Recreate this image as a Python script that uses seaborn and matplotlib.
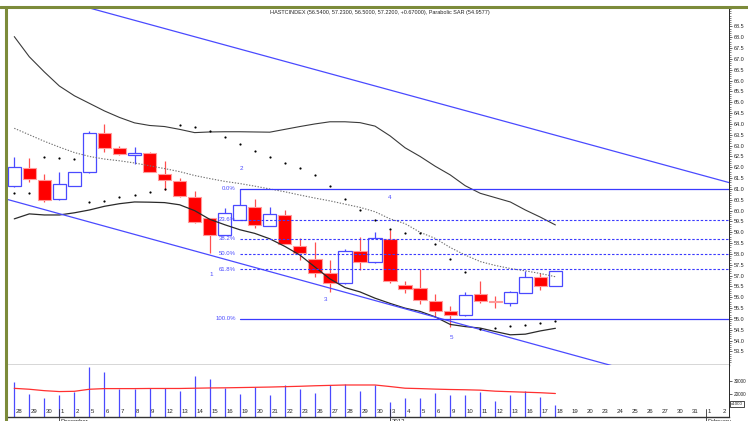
import numpy as np
import pandas as pd
import seaborn as sns
import matplotlib.pyplot as plt
from matplotlib.lines import Line2D
from matplotlib.transforms import blended_transform_factory

# trading days shown on the axis (Jan 2 holiday dropped)
dates = pd.bdate_range("2011-11-28", "2012-02-02").drop(pd.Timestamp("2012-01-02"))

# OHLC for Nov 28 .. Jan 18
opens = [61.15, 61.95, 61.42, 60.52, 61.14, 61.77, 63.57, 62.88, 62.57, 62.68,
         61.69, 61.38, 60.65, 59.65, 58.88, 59.57, 60.18, 59.29, 59.80, 58.37,
         57.76, 57.14, 56.65, 58.14, 57.62, 58.69, 56.57, 56.45, 55.83, 55.38,
         55.18, 56.15, 55.85, 55.75, 56.21, 56.95, 56.54]
highs = [62.46, 62.42, 61.68, 61.80, 61.80, 63.68, 63.98, 62.98, 62.92, 62.70,
         62.30, 61.49, 60.92, 59.67, 60.11, 61.00, 60.54, 60.15, 60.05, 58.72,
         58.57, 57.72, 58.23, 58.80, 59.03, 59.10, 56.75, 57.29, 56.15, 55.60,
         56.26, 56.75, 56.06, 56.28, 57.22, 57.14, 57.23]
lows = [61.10, 61.34, 60.41, 60.50, 61.12, 61.75, 62.72, 62.57, 62.14, 61.78,
        60.95, 60.62, 59.42, 58.06, 58.86, 59.55, 59.19, 59.27, 58.44, 57.72,
        56.95, 56.26, 56.63, 57.26, 57.60, 56.65, 56.19, 55.69, 55.11, 54.62,
        55.16, 55.75, 55.49, 55.60, 56.19, 56.34, 56.50]
closes = [62.00, 61.45, 60.49, 61.23, 61.77, 63.57, 62.88, 62.60, 62.68, 61.80,
          61.42, 60.68, 59.49, 58.88, 59.88, 60.26, 59.34, 59.83, 58.46, 58.03,
          57.14, 56.68, 58.15, 57.62, 58.75, 56.77, 56.39, 55.88, 55.37, 55.18,
          56.11, 55.83, 55.77, 56.26, 56.95, 56.54, 57.22]

# bollinger bands
bb_upper = [68.03, 67.10, 66.40, 65.75, 65.30, 64.95, 64.60, 64.30, 64.05, 63.93,
            63.88, 63.75, 63.60, 63.63, 63.64, 63.64, 63.63, 63.62, 63.75, 63.88,
            64.00, 64.10, 64.10, 64.06, 63.90, 63.45, 62.90, 62.50, 62.05, 61.65,
            61.15, 60.80, 60.60, 60.40, 60.03, 59.70, 59.34]
bb_mid = [63.80, 63.50, 63.20, 62.93, 62.68, 62.50, 62.38, 62.30, 62.20, 62.07,
          61.94, 61.80, 61.62, 61.48, 61.35, 61.25, 61.13, 61.00, 60.87, 60.72,
          60.58, 60.45, 60.30, 60.15, 59.95, 59.62, 59.40, 59.00, 58.72, 58.30,
          57.95, 57.65, 57.47, 57.33, 57.22, 57.10, 56.95]
bb_lower = [59.62, 59.85, 59.80, 59.80, 59.90, 60.03, 60.20, 60.32, 60.40, 60.39,
            60.37, 60.27, 60.00, 59.60, 59.35, 59.12, 58.95, 58.70, 58.35, 57.95,
            57.40, 56.85, 56.45, 56.25, 55.96, 55.72, 55.50, 55.35, 55.10, 54.75,
            54.65, 54.58, 54.42, 54.27, 54.30, 54.45, 54.57]

# parabolic SAR
sar = [60.83, 60.83, 62.46, 62.42, 62.38, 60.41, 60.46, 60.62, 60.72, 60.88,
       61.00, 63.95, 63.86, 63.68, 63.40, 63.07, 62.75, 62.46, 62.20, 61.97,
       61.65, 61.14, 60.54, 60.03, 59.57, 59.15, 58.98, 58.95, 58.45, 57.77,
       57.16, 54.56, 54.60, 54.68, 54.71, 54.80, 54.91]

volume = [29200, 20000, 16500, 19400, 21600, 40600, 36700, 23400, 23400, 24200,
          24200, 22100, 33500, 31100, 24200, 20000, 25200, 18700, 26600, 24000,
          20800, 26600, 27400, 22100, 26800, 13700, 16800, 16800, 20500, 18900,
          19400, 21000, 14700, 18700, 22400, 17300, 11500]
volume_ma = [24200, 23500, 22400, 21700, 21900, 23500, 24000, 24000, 24000, 24100,
             24100, 24100, 24300, 24500, 24600, 24800, 25000, 25200, 25500, 25800,
             26200, 26500, 26800, 26800, 26800, 25600, 24300, 24000, 23600, 23300,
             23100, 22800, 22000, 21600, 21200, 20800, 20200]

# trend channel (slot, price) end points
channel_upper = [(5.0, 69.35), (48.0, 61.21)]
channel_lower = [(-1.0, 60.62), (40.0, 52.80)]

# fibonacci retracement
fib_start = 15
fib_high, fib_low = 61.0, 55.0
fib_pcts = [0.0, 23.6, 38.2, 50.0, 61.8, 100.0]

# elliott wave labels (slot, price, text)
wave_slots = [13.1, 15.1, 20.7, 25.0, 29.1]
wave_prices = [57.06, 61.95, 55.88, 60.62, 54.16]
wave_texts = ["1", "2", "3", "4", "5"]

title = ("HASTCINDEX (56.5400, 57.2300, 56.5000, 57.2200, +0.67000), "
         "Parabolic SAR (54.9577)")

sns.set_style("white")
plt.rcParams["font.family"] = ["Liberation Sans", "DejaVu Sans"]

BLUE = "#4a4aff"
RED = "#ff0000"
OLIVE = "#7c8b3a"

W, H = 748, 421
fig = plt.figure(figsize=(W / 100, H / 100), dpi=100)
ax = fig.add_axes([6 / W, 1 - 364.5 / H, 723 / W, (364.5 - 8) / H])
axv = fig.add_axes([6 / W, 1 - 416.7 / H, 723 / W, (416.7 - 364.5) / H], sharex=ax)

n = len(closes)
x = np.arange(n)
df = pd.DataFrame({"x": x, "open": opens, "high": highs, "low": lows, "close": closes,
                   "upper": bb_upper, "mid": bb_mid, "lower": bb_lower, "sar": sar,
                   "vol": volume, "vol_ma": volume_ma})
up = df["close"] >= df["open"]

# --- candles ---
ax.vlines(df.x[up], df.low[up], df.high[up], color=BLUE, lw=0.9, zorder=2)
ax.vlines(df.x[~up], df.low[~up], df.high[~up], color="#ff5050", lw=0.9, zorder=2)
body_lo = df[["open", "close"]].min(axis=1)
body_h = (df.close - df.open).abs()
ax.bar(df.x[up], body_h[up], bottom=body_lo[up], width=0.88, color="white",
       edgecolor=BLUE, linewidth=0.9, zorder=3)
ax.bar(df.x[~up], body_h[~up], bottom=body_lo[~up], width=0.88, color=RED,
       edgecolor="#ff9a9a", linewidth=0.8, zorder=3)

# --- bands and SAR ---
sns.lineplot(data=df, x="x", y="upper", ax=ax, color="#3a3a3a", lw=0.8, zorder=4)
sns.lineplot(data=df, x="x", y="lower", ax=ax, color="#2a2a2a", lw=0.9, zorder=4)
sns.lineplot(data=df, x="x", y="mid", ax=ax, color="#707070", lw=0.8,
             linestyle=(0, (1.2, 1.4)), zorder=4)
sns.scatterplot(data=df, x="x", y="sar", ax=ax, s=2.5, color="black",
                linewidth=0, zorder=5)

# --- trend channel ---
for seg in (channel_upper, channel_lower):
    xs, ys = zip(*seg)
    ax.plot(xs, ys, color=BLUE, lw=0.9, zorder=4)

# --- fibonacci ---
for p in fib_pcts:
    lvl = fib_high - p / 100 * (fib_high - fib_low)
    solid = p in (0.0, 100.0)
    ax.plot([fib_start, 49], [lvl, lvl], color="#3a3aff", lw=0.9 if solid else 0.8,
            linestyle="-" if solid else (0, (2.2, 1.6)), zorder=4)
    ax.text(fib_start - 0.25, lvl, f"{p:.1f}%", color="#4a4aff", fontsize=4.3,
            ha="right", va="center", zorder=6)

for sx, sy, t in zip(wave_slots, wave_prices, wave_texts):
    ax.text(sx, sy, t, color="#4a4aff", fontsize=4.5, ha="center", va="center")

ax.set_xlim(-0.55, 47.55)
ax.set_ylim(52.9, 69.35)
ax.set_xlabel("")
ax.set_ylabel("")
ax.yaxis.tick_right()
ax.set_yticks(np.arange(53.5, 68.51, 0.5))
ax.set_yticks(np.arange(53.0, 69.31, 0.1), minor=True)
ax.yaxis.set_major_formatter(plt.FormatStrFormatter("%.1f"))
ax.tick_params(axis="y", which="major", right=True, length=2.2, width=0.5,
               labelsize=4.0, pad=1.5, direction="out")
ax.tick_params(axis="y", which="minor", right=True, length=1.2, width=0.4)
ax.tick_params(axis="x", bottom=False, labelbottom=False)
for s in ("left", "top"):
    ax.spines[s].set_visible(False)
ax.spines["right"].set_linewidth(0.7)
ax.spines["bottom"].set_linewidth(1.0)
ax.spines["bottom"].set_color("#333333")

# --- volume panel ---
axv.vlines(df.x, 0, df.vol, color=BLUE, lw=0.9)
sns.lineplot(data=df, x="x", y="vol_ma", ax=axv, color="#ff3030", lw=0.9)
axv.set_ylim(2200, 42700)
axv.set_xlabel("")
axv.set_ylabel("")
axv.yaxis.tick_right()
axv.set_yticks([20000, 30000])
axv.tick_params(axis="y", right=True, length=2.2, width=0.5, labelsize=3.4, pad=1)
axv.set_xticks(np.arange(len(dates)))
axv.tick_params(axis="x", direction="in", length=3, width=0.5, labelbottom=False)
for s in ("left", "top"):
    axv.spines[s].set_visible(False)
axv.spines["right"].set_linewidth(0.7)
axv.spines["bottom"].set_linewidth(1.0)
axv.spines["bottom"].set_color("#333333")

trans = blended_transform_factory(axv.transData, axv.transAxes)
for i, d in enumerate(dates):
    axv.text(i + 0.1, 0.05, str(d.day), transform=trans, fontsize=4.3,
             ha="left", va="bottom")
    if i > 0 and d.month != dates[i - 1].month:
        name = str(d.year) if d.year != dates[i - 1].year else d.strftime("%B")
        axv.plot([i, i], [-0.2, 0.15], transform=trans, color="#333333",
                 lw=0.6, clip_on=False)
        axv.text(i + 0.1, -0.04, name, transform=trans, fontsize=4.3,
                 ha="left", va="top", clip_on=False)

fig.text(731 / W, 1 - 404 / H, "x1000", fontsize=3.2, ha="left", va="center",
         bbox=dict(boxstyle="square,pad=0.15", fc="white", ec="black", lw=0.5))

# title and frame
fig.text(270 / W, 1 - 12.5 / H, title, fontsize=4.0, ha="left", va="center")
fig.add_artist(Line2D([0, 1], [1 - 7 / H] * 2, transform=fig.transFigure,
                      color=OLIVE, lw=2.2))
fig.add_artist(Line2D([5.5 / W] * 2, [0, 1 - 7 / H], transform=fig.transFigure,
                      color=OLIVE, lw=2.2))

fig.savefig("out.png", dpi=100, facecolor="white")
